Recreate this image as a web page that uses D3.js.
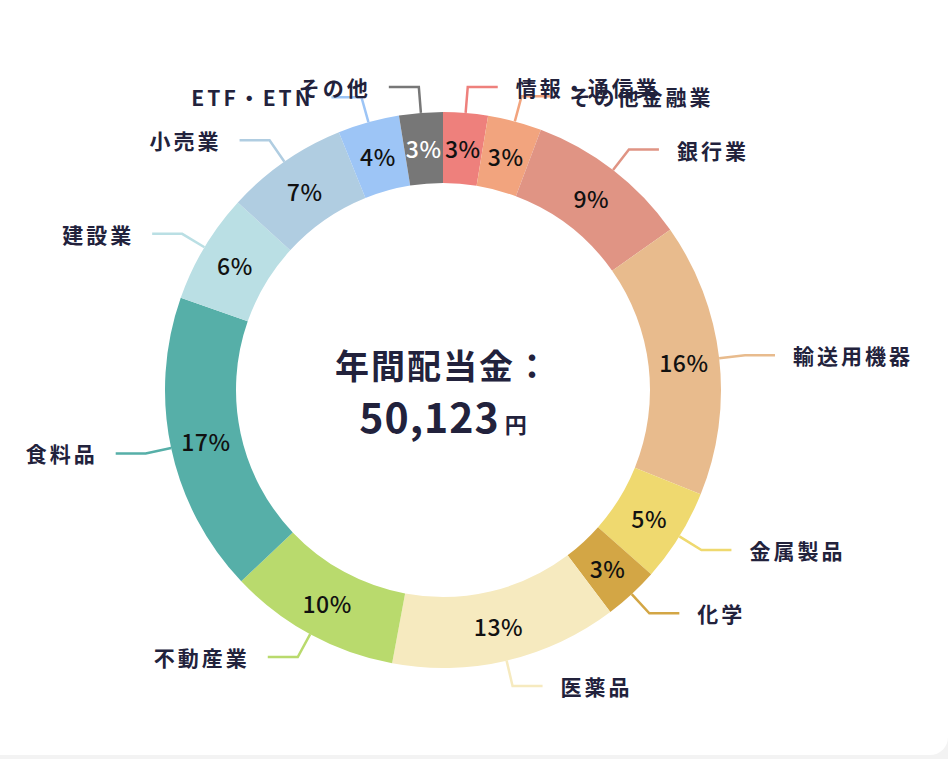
<!DOCTYPE html>
<html>
<head>
<meta charset="utf-8">
<script src="https://cdn.jsdelivr.net/npm/d3@7"></script>
<style>
  html, body { margin: 0; padding: 0; background: #f3f3f3; }
  #card { width: 948px; height: 755px; background: #fff; border-bottom-right-radius: 18px; }
  svg { display: block; }
</style>
</head>
<body>
<div id="card"></div>
<script>
const categories = [
  "情報・通信業", "その他金融業", "銀行業", "輸送用機器", "金属製品", "化学",
  "医薬品", "不動産業", "食料品", "建設業", "小売業", "ETF・ETN", "その他"
];
const values = [1300, 1570, 4760, 7970, 2710, 1600, 6620, 5010, 8750, 3210, 3560, 1793, 1270];
const colors = [
  "#ee807c", "#f2a47e", "#e09484", "#e8bb8d", "#efd96f", "#d3a645",
  "#f6eabf", "#b9da6d", "#56afa8", "#badfe4", "#b0cde1", "#9dc5f6", "#777777"
];
const centerTitle = "年間配当金：";
const totalLabel = d3.format(",")(d3.sum(values));

const width = 948;
const height = 755;
const cx = 443;
const cy = 390;
const outerR = 278;
const innerR = 207;

const svg = d3.select("#card")
  .append("svg")
  .attr("width", width)
  .attr("height", height);

const g = svg.append("g").attr("transform", `translate(${cx},${cy})`);

const total = d3.sum(values);
const pie = d3.pie().sort(null).value((d) => d.value);
const arcs = pie(categories.map((c, i) => ({ name: c, value: values[i], color: colors[i] })));

const arc = d3.arc().innerRadius(innerR).outerRadius(outerR);

g.selectAll("path.slice")
  .data(arcs)
  .enter()
  .append("path")
  .attr("class", "slice")
  .attr("d", arc)
  .attr("fill", (d) => d.data.color);

// percent labels
g.selectAll("text.pct")
  .data(arcs)
  .enter()
  .append("text")
  .attr("class", "pct")
  .attr("transform", (d) => `translate(${arc.centroid(d)})`)
  .attr("text-anchor", "middle")
  .attr("dominant-baseline", "central")
  .style("font-family", "'Noto Sans CJK JP', 'Noto Sans', sans-serif")
  .style("font-size", "23px")
  .style("font-weight", 500)
  .style("letter-spacing", "0.5px")
  .attr("fill", (d) => (d.data.name === "その他" ? "#ffffff" : "#111111"))
  .text((d) => `${Math.round((d.value / total) * 100)}%`);

// leader lines
const r2 = outerR + 26;
const len2 = 30;
const leader = (d) => {
  const a = (d.startAngle + d.endAngle) / 2;
  const s = Math.sin(a);
  const c = -Math.cos(a);
  const dir = s >= 0 ? 1 : -1;
  const p1 = [s * outerR, c * outerR];
  const p2 = [s * r2, c * r2];
  const p3 = [p2[0] + dir * len2, p2[1]];
  return { p1, p2, p3, dir };
};

g.selectAll("path.leader")
  .data(arcs)
  .enter()
  .append("path")
  .attr("class", "leader")
  .attr("d", (d) => { const l = leader(d); return d3.line()([l.p1, l.p2, l.p3]); })
  .attr("fill", "none")
  .attr("stroke", (d) => d.data.color)
  .attr("stroke-width", 2.5);

g.selectAll("text.name")
  .data(arcs)
  .enter()
  .append("text")
  .attr("class", "name")
  .attr("x", (d) => { const l = leader(d); return l.p3[0] + l.dir * 18; })
  .attr("y", (d) => leader(d).p3[1])
  .attr("text-anchor", (d) => (leader(d).dir > 0 ? "start" : "end"))
  .attr("dominant-baseline", "central")
  .style("font-family", "'Noto Sans CJK JP', sans-serif")
  .style("font-size", "21px")
  .style("font-weight", 700)
  .style("letter-spacing", "3px")
  .attr("fill", "#22223c")
  .text((d) => d.data.name);

// center text
g.append("text")
  .attr("x", 0)
  .attr("y", -26)
  .attr("text-anchor", "middle")
  .attr("dominant-baseline", "central")
  .style("font-family", "'Noto Sans CJK JP', sans-serif")
  .style("font-size", "34px")
  .style("font-weight", 700)
  .style("letter-spacing", "2px")
  .attr("fill", "#22223c")
  .text(centerTitle);

const amount = g.append("text")
  .attr("x", 0)
  .attr("y", 43)
  .attr("text-anchor", "middle")
  .style("font-family", "'Noto Sans CJK JP', sans-serif")
  .style("font-weight", 700)
  .attr("fill", "#22223c");
amount.append("tspan").style("font-size", "41px").style("letter-spacing", "1px").text(totalLabel);
amount.append("tspan").style("font-size", "22px").attr("dx", 5).text("円");
</script>
</body>
</html>
